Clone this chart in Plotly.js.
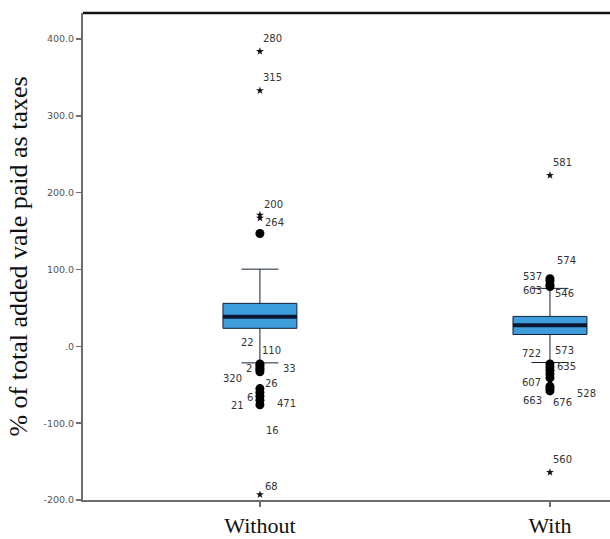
<!DOCTYPE html>
<html>
<head>
<meta charset="utf-8">
<script src="https://cdn.plot.ly/plotly-3.0.1.min.js"></script>
<style>
html,body{margin:0;padding:0;background:#fff;}
#chart{width:610px;height:539px;}
</style>
</head>
<body>
<div id="chart"></div>
<script>
// ---- data ----
const categories = ['Without', 'With'];
const q1 = [23.5, 15.5];
const median = [38.5, 27.5];
const q3 = [56, 39];
const lowerWhisker = [-21.5, -21];
const upperWhisker = [100.5, 75.5];

// outliers (circles) and extremes (stars), with case labels
const withoutCircleVals = [147, -23, -25, -28, -30, -33, -55, -60, -65, -70, -76];
const withoutCircleLabels = ['', '22', '110', '2', '33', '320', '26', '6', '21', '471', '16'];
const withoutStarVals = [384, 333, 171, 167, -193];
const withoutStarLabels = ['280', '315', '200', '264', '68'];

const withCircleVals = [88, 85, 80, 78, -23, -27, -31, -36, -41, -52, -55, -58];
const withCircleLabels = ['574', '537', '603', '546', '722', '573', '635', '', '607', '528', '663', '676'];
const withStarVals = [222.7, -164];
const withStarLabels = ['581', '560'];

const yTickVals = [-200, -100, 0, 100, 200, 300, 400];
const yTickText = ['-200.0', '-100.0', '.0', '100.0', '200.0', '300.0', '400.0'];

// ---- label pixel offsets (layout only) ----
const withoutCircleShift = [[0,0],[-12,22],[12,15],[-11,-1],[30,1],[-27,-7],[12,5],[-10,-5],[-22,-9],[27,-3],[13,-26]];
const withoutStarShift = [[13,13],[13,13],[14,11],[15,-4],[12,8]];
const withCircleShift = [[17,18],[-17,5],[-17,-6],[15,-7],[-18,11],[15,17],[17,4],[0,0],[-18,-5],[37,-7],[-17,-12],[13,-12]];
const withStarShift = [[13,13],[13,13]];

const rep = (c, n) => Array(n).fill(c);

const boxTrace = {
  type: 'box', x: categories, q1: q1, median: median, q3: q3,
  lowerfence: lowerWhisker, upperfence: upperWhisker,
  boxpoints: false, width: 0.255, whiskerwidth: 0.5,
  fillcolor: '#3d9edb', line: {color: '#14203a', width: 1},
  hoverinfo: 'skip', showlegend: false
};
const medianTrace = {
  type: 'box', x: categories, q1: median, median: median, q3: median,
  lowerfence: median, upperfence: median,
  boxpoints: false, width: 0.255, whiskerwidth: 1,
  fillcolor: 'rgba(0,0,0,0)', line: {color: '#0b1630', width: 4},
  hoverinfo: 'skip', showlegend: false
};

const circleX = rep('Without', withoutCircleVals.length).concat(rep('With', withCircleVals.length));
const circleY = withoutCircleVals.concat(withCircleVals);
const starX = rep('Without', withoutStarVals.length).concat(rep('With', withStarVals.length));
const starY = withoutStarVals.concat(withStarVals);

const circles = {type: 'scatter', mode: 'markers', x: circleX, y: circleY,
  marker: {symbol: 'circle', size: 9, color: '#000'}, showlegend: false, hoverinfo: 'skip'};
const stars = {type: 'scatter', mode: 'markers', x: starX, y: starY,
  marker: {symbol: 'star', size: 6, color: '#111', line: {width: 0}}, showlegend: false, hoverinfo: 'skip'};

const annotations = [];
function addLabels(cat, vals, labels, shifts) {
  vals.forEach((v, i) => {
    if (!labels[i]) return;
    annotations.push({
      x: cat, y: v, xref: 'x', yref: 'y', text: labels[i], showarrow: false,
      xshift: shifts[i][0], yshift: shifts[i][1],
      font: {family: 'DejaVu Sans, Arial, sans-serif', size: 10, color: '#333'}
    });
  });
}
addLabels('Without', withoutCircleVals, withoutCircleLabels, withoutCircleShift);
addLabels('Without', withoutStarVals, withoutStarLabels, withoutStarShift);
addLabels('With', withCircleVals, withCircleLabels, withCircleShift);
addLabels('With', withStarVals, withStarLabels, withStarShift);

const layout = {
  width: 610, height: 539,
  margin: {l: 83, r: 0, t: 13, b: 39},
  paper_bgcolor: '#fff', plot_bgcolor: '#fff',
  boxmode: 'overlay', showlegend: false,
  xaxis: {
    type: 'category', categoryorder: 'array', categoryarray: categories,
    range: [-0.61, 1.207], showgrid: false, zeroline: false,
    showline: true, linecolor: '#6e6e6e', linewidth: 2,
    ticks: 'outside', ticklen: 5, tickcolor: '#6e6e6e', tickwidth: 1.5,
    ticklabelstandoff: 0,
    tickfont: {family: 'Liberation Serif, Times New Roman, serif', size: 22, color: '#111'},
    automargin: false, fixedrange: true
  },
  yaxis: {
    range: [-200, 434], tickvals: yTickVals, ticktext: yTickText,
    showgrid: false, zeroline: false,
    showline: true, linecolor: '#6e6e6e', linewidth: 2,
    ticks: 'outside', ticklen: 5, tickcolor: '#6e6e6e', tickwidth: 1.5,
    tickfont: {family: 'DejaVu Sans, Arial, sans-serif', size: 9.5, color: '#555'},
    title: {text: '% of total added vale paid as taxes', standoff: 8,
      font: {family: 'Liberation Serif, Times New Roman, serif', size: 26, color: '#111'}},
    automargin: false, fixedrange: true
  },
  shapes: [{type: 'line', xref: 'paper', yref: 'paper', x0: 0, x1: 1, y0: 1, y1: 1,
    line: {color: '#111', width: 2.5}}],
  annotations: annotations
};

Plotly.newPlot('chart', [boxTrace, medianTrace, circles, stars], layout, {displayModeBar: false, staticPlot: true});
</script>
</body>
</html>
